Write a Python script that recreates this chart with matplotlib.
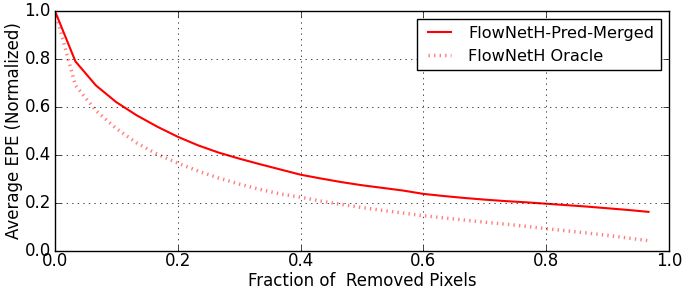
import numpy as np
import matplotlib
matplotlib.use("Agg")
import matplotlib.pyplot as plt

# fraction of removed pixels
frac = [i / 30.0 for i in range(30)]

merged = [1.0, 0.79, 0.69, 0.62, 0.565, 0.518, 0.476, 0.44, 0.41, 0.385,
          0.362, 0.34, 0.318, 0.302, 0.287, 0.274, 0.263, 0.252, 0.238, 0.229,
          0.221, 0.214, 0.208, 0.203, 0.197, 0.191, 0.185, 0.178, 0.171, 0.163]

oracle = [1.0, 0.69, 0.585, 0.51, 0.45, 0.403, 0.366, 0.333, 0.304, 0.279,
          0.257, 0.238, 0.224, 0.208, 0.194, 0.181, 0.169, 0.158, 0.147, 0.138,
          0.129, 0.12, 0.112, 0.103, 0.093, 0.084, 0.075, 0.065, 0.054, 0.043]

plt.style.use('classic')
plt.rcParams['font.family'] = ['DejaVu Sans']

fig = plt.figure(figsize=(6.83, 2.91), dpi=100, facecolor='white')
ax = fig.add_axes([0.0805, 0.1375, 0.899, 0.8245])

ax.plot(frac, merged, color='red', lw=1.5, label='FlowNetH-Pred-Merged')
ax.plot(frac, oracle, color='red', lw=2.5, ls=':', alpha=0.5, label='FlowNetH Oracle')

ax.set_xlim(0, 1)
ax.set_ylim(0, 1)
ax.set_xticks([0.0, 0.2, 0.4, 0.6, 0.8, 1.0])
ax.set_yticks([0.0, 0.2, 0.4, 0.6, 0.8, 1.0])
ax.tick_params(labelsize=12)
ax.tick_params(axis='x', pad=1)
ax.tick_params(axis='y', pad=3)
ax.grid(True)
ax.set_xlabel('Fraction of  Removed Pixels', fontsize=12, labelpad=1)
ax.set_ylabel('Average EPE (Normalized)', fontsize=12, labelpad=1)
ax.legend(loc='upper right', fontsize=11.6)

fig.savefig('out.png', dpi=100, facecolor='white')
